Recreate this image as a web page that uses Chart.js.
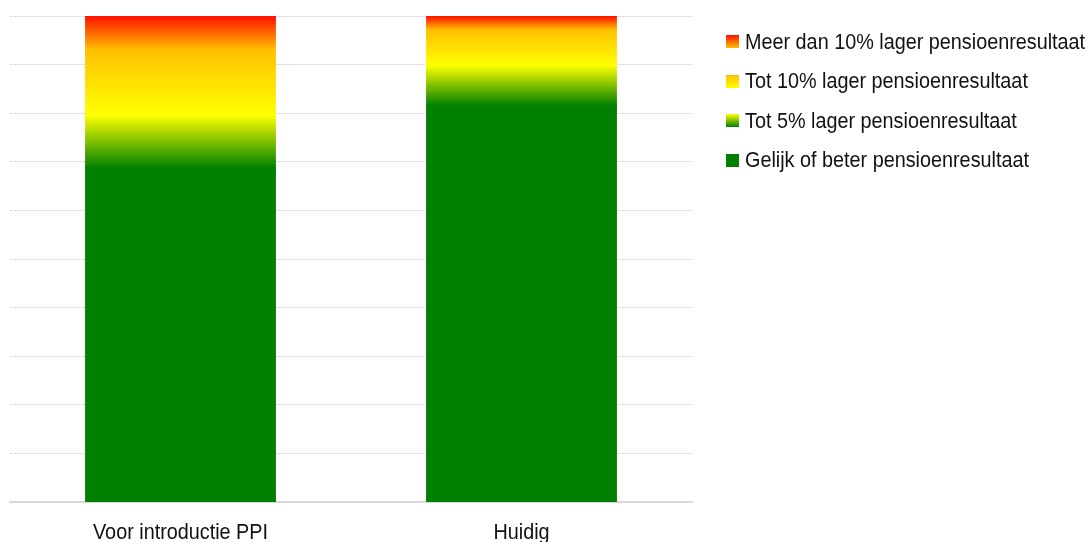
<!DOCTYPE html>
<html>
<head>
<meta charset="utf-8">
<script src="https://cdn.jsdelivr.net/npm/chart.js@4.4.1/dist/chart.umd.min.js"></script>
<style>
  html, body { margin: 0; padding: 0; background: #fff; }
  #wrap { position: relative; width: 1091px; height: 542px; }
  #legend { position: absolute; left: 726px; top: 22px; font-family: "Liberation Sans", Arial, sans-serif; font-size: 22px; color: #111; }
  #legend div { height: 39.5px; display: flex; align-items: center; white-space: nowrap; }
  #legend span.sw { display: inline-block; width: 13px; height: 13px; margin-right: 6px; }
  #legend span.tx { display: inline-block; transform: scaleX(0.9); transform-origin: left center; }
</style>
</head>
<body>
<div id="wrap">
  <canvas id="chart" width="1091" height="542"></canvas>
  <div id="legend"></div>
</div>
<script>
const categories = ['Voor introductie PPI', 'Huidig'];
const gelijkOfBeter = [68.7, 81.5];
const tot5Lager = [10.9, 8.4];
const tot10Lager = [13.4, 7.2];
const meerDan10Lager = [7.0, 2.9];

const seriesNames = [
    'Gelijk of beter pensioenresultaat',
    'Tot 5% lager pensioenresultaat',
    'Tot 10% lager pensioenresultaat',
    'Meer dan 10% lager pensioenresultaat'
];
// top colour, bottom colour of each segment
const fills = [
    ['#008000', '#008000'],
    ['#ffff00', '#008000'],
    ['#ffc000', '#ffff00'],
    ['#ff1000', '#ffc000']
];
const allSeries = [gelijkOfBeter, tot5Lager, tot10Lager, meerDan10Lager];

const legend = document.getElementById('legend');
for (let i = seriesNames.length - 1; i >= 0; i--) {
    const row = document.createElement('div');
    const sw = document.createElement('span');
    sw.className = 'sw';
    sw.style.background = 'linear-gradient(' + fills[i][0] + ', ' + fills[i][1] + ')';
    const tx = document.createElement('span');
    tx.className = 'tx';
    tx.textContent = seriesNames[i];
    row.appendChild(sw);
    row.appendChild(tx);
    legend.appendChild(row);
}

function gradientFill(dsIndex) {
    const [top, bottom] = fills[dsIndex];
    return function (ctx) {
        const chart = ctx.chart;
        const y = chart.scales.y;
        if (!y || ctx.dataIndex === undefined || top === bottom) return bottom;
        let base = 0;
        for (let i = 0; i < dsIndex; i++) base += allSeries[i][ctx.dataIndex];
        const value = allSeries[dsIndex][ctx.dataIndex];
        const yTop = y.getPixelForValue(base + value);
        const yBottom = y.getPixelForValue(base);
        if (!isFinite(yTop) || !isFinite(yBottom) || yTop === yBottom) return bottom;
        const g = chart.ctx.createLinearGradient(0, yTop, 0, yBottom);
        g.addColorStop(0, top);
        g.addColorStop(1, bottom);
        return g;
    };
}

// narrow category labels under the bars
const narrowLabels = {
    id: 'narrowLabels',
    afterDraw(chart) {
        const ctx = chart.ctx;
        const x = chart.scales.x;
        ctx.save();
        ctx.font = '22px "Liberation Sans", Arial, sans-serif';
        ctx.fillStyle = '#111';
        ctx.textAlign = 'center';
        ctx.textBaseline = 'alphabetic';
        categories.forEach((label, i) => {
            ctx.save();
            ctx.translate(x.getPixelForValue(i), chart.chartArea.bottom + 37);
            ctx.scale(0.9, 1);
            ctx.fillText(label, 0, 0);
            ctx.restore();
        });
        ctx.restore();
    }
};

new Chart(document.getElementById('chart'), {
    type: 'bar',
    data: {
        labels: categories,
        datasets: allSeries.map((values, i) => ({
            label: seriesNames[i],
            data: values,
            backgroundColor: gradientFill(i),
            borderWidth: 0,
            inflateAmount: 0.8,
            barPercentage: 1,
            categoryPercentage: 0.555
        }))
    },
    plugins: [narrowLabels],
    options: {
        responsive: false,
        animation: false,
        layout: { padding: { left: 10, right: 399, top: 16, bottom: 32 } },
        plugins: { legend: { display: false }, tooltip: { enabled: false } },
        scales: {
            x: {
                stacked: true,
                grid: { display: false },
                border: { color: '#d9d9d9', width: 2 },
                ticks: { display: false }
            },
            y: {
                stacked: true,
                min: 0,
                max: 100,
                ticks: { display: false, stepSize: 10 },
                border: { display: false, dash: [3, 1] },
                grid: { color: '#d9d9d9', tickLength: 0, drawTicks: false, lineWidth: 1 }
            }
        }
    }
});
</script>
</body>
</html>
